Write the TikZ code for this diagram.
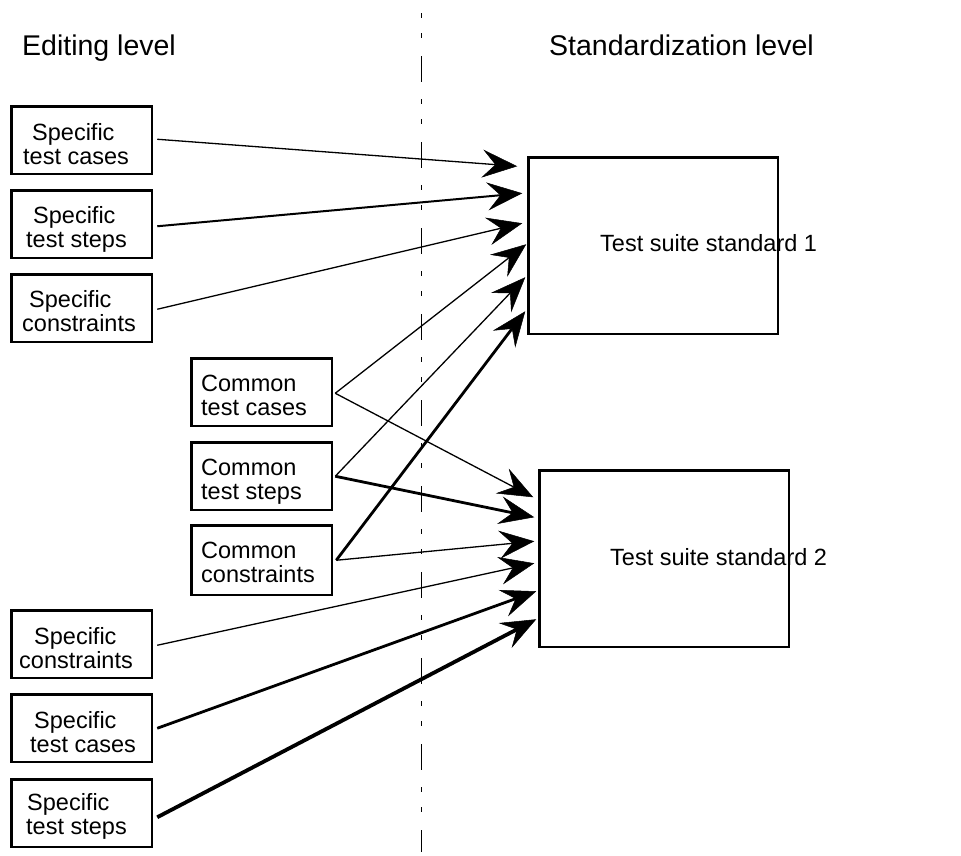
\documentclass[tikz,border=0pt]{standalone}
\usepackage{fontspec}
\setmainfont{Liberation Sans}
\usetikzlibrary{arrows.meta,calc}

\tikzset{
  box/.style={draw, line width=2.5pt, inner sep=0pt, anchor=north west,
    minimum width=140.5pt, minimum height=67.5pt},
  bigbox/.style={draw, line width=2.5pt, inner sep=0pt, anchor=north west,
    minimum width=249.5pt, minimum height=176.5pt},
  boxtext/.style={anchor=north west, inner sep=0pt, align=left,
    font=\fontsize{23.5pt}{24pt}\selectfont},
  stdtext/.style={anchor=base west, inner sep=0pt,
    font=\fontsize{23.5pt}{24pt}\selectfont},
  title/.style={anchor=base west, inner sep=0pt,
    font=\fontsize{28.5pt}{30pt}\selectfont},
  edge/.style={-{Stealth[length=35pt, width=28pt, inset=13pt, line width=0.5pt]}},
  thinedge/.style={edge, line width=1.3pt},
  midedge/.style={edge, line width=2pt},
  thickedge/.style={edge, line width=2.8pt},
  heavyedge/.style={edge, line width=3.8pt},
  divider/.style={line width=1.3pt,
    dash pattern=on 5pt off 15pt on 5pt off 18pt on 26pt off 17pt}
}

\begin{document}
\begin{tikzpicture}[x=1pt, y=-1pt]
\useasboundingbox (0,0) rectangle (961,855);

% level separator
\coordinate (divtop) at (421.5,13);
\coordinate (divbot) at (421.5,852);
\draw[divider] (divtop) -- (divbot);

% column titles
\node[title] (edtitle) at (22,55) {Editing level};
\node[title] (sttitle) at (549,55) {Standardization level};

% specific modules, upper group
\node[box] (sa) at (10.25,105.25) {};
\node[boxtext] (sat) at (23,123) {\hspace*{9pt}Specific\\test cases};
\node[box] (sb) at (10.25,189.25) {};
\node[boxtext] (sbt) at (26,206) {\hspace*{7pt}Specific\\test steps};
\node[box] (sc) at (10.25,273.25) {};
\node[boxtext] (sct) at (22,290) {\hspace*{7pt}Specific\\constraints};

% common modules
\node[box] (ca) at (190.25,357.25) {};
\node[boxtext] (cat) at (201,375) {Common\\test cases};
\node[box] (cb) at (190.25,441.25) {};
\node[boxtext] (cbt) at (201,459) {Common\\test steps};
\node[box, minimum height=69.5pt] (cc) at (190.25,524.25) {};
\node[boxtext] (cct) at (201,542) {Common\\constraints};

% specific modules, lower group
\node[box] (sd) at (10.25,609.25) {};
\node[boxtext] (sdt) at (19,627) {\hspace*{15pt}Specific\\constraints};
\node[box] (se) at (10.25,693.25) {};
\node[boxtext] (set) at (30,711) {\hspace*{4pt}Specific\\test cases};
\node[box] (sf) at (10.25,778.25) {};
\node[boxtext] (sft) at (26,793) {\hspace*{1pt}Specific\\test steps};

% test suite standards
\node[bigbox] (ts1) at (527.25,156.25) {};
\node[stdtext] (ts1t) at (600,251) {Test suite standard 1};
\node[bigbox] (ts2) at (538.25,469.25) {};
\node[stdtext] (ts2t) at (610,565) {Test suite standard 2};

% arrow ends in front of the standards
\coordinate (p1) at ($(ts1.north west)+(-10,10)$);
\coordinate (p2) at ($(ts1.north west)+(-5,37)$);
\coordinate (p3) at ($(ts1.north west)+(-5,67)$);
\coordinate (p4) at ($(ts1.north west)+(-1,88)$);
\coordinate (p5) at ($(ts1.north west)+(-2,121)$);
\coordinate (p6) at ($(ts1.north west)+(-2,155)$);
\coordinate (q1) at ($(ts2.north west)+(-5,28)$);
\coordinate (q2) at ($(ts2.north west)+(-4,48)$);
\coordinate (q3) at ($(ts2.north west)+(-4,72)$);
\coordinate (q4) at ($(ts2.north west)+(-4,94)$);
\coordinate (q5) at ($(ts2.north west)+(-2,122)$);
\coordinate (q6) at ($(ts2.north west)+(-2,150)$);

% arrows into standard 1
\draw[thinedge]  ($(sa.east)+(4,-1)$) -- (p1);
\draw[midedge]   ($(sb.east)+(4,2)$) -- (p2);
\draw[thinedge]  ($(sc.east)+(4,1)$) -- (p3);
\draw[thinedge]  ($(ca.east)+(2,1)$) -- (p4);
\draw[thinedge]  ($(cb.east)+(2,0)$) -- (p5);
\draw[thickedge] ($(cc.east)+(3,0)$) -- (p6);

% arrows into standard 2
\draw[thinedge]  ($(ca.east)+(2,1)$) -- (q1);
\draw[thickedge] ($(cb.east)+(2,0)$) -- (q2);
\draw[thinedge]  ($(cc.east)+(3,0)$) -- (q3);
\draw[thinedge]  ($(sd.east)+(4,1)$) -- (q4);
\draw[thickedge] ($(se.east)+(4,0)$) -- (q5);
\draw[heavyedge] ($(sf.east)+(4,4)$) -- (q6);
\end{tikzpicture}
\end{document}
